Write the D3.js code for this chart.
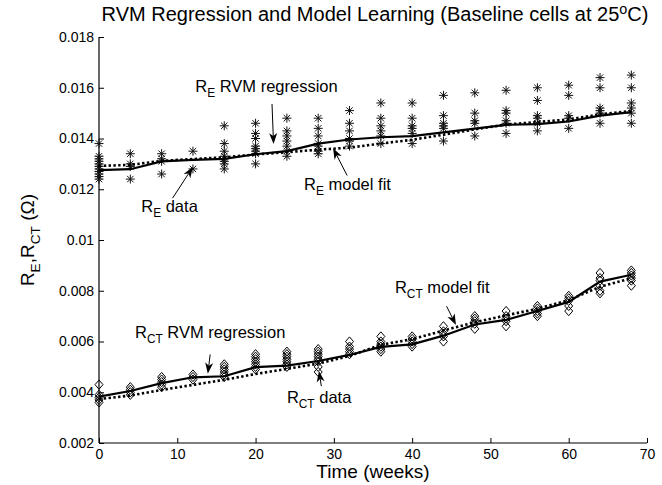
<!DOCTYPE html>
<html lang="en">
<head>
<meta charset="UTF-8">
<title>RVM Regression and Model Learning</title>
<script src="https://d3js.org/d3.v7.min.js"></script>
<style>
  body { margin: 0; background: #fff; }
  svg text { font-family: Arial, "Liberation Sans", sans-serif; fill: #000; }
</style>
</head>
<body>
<div id="chart"></div>
<script>
// sample times (weeks)
const weeks = [0, 4, 8, 12, 16, 20, 24, 28, 32, 36, 40, 44, 48, 52, 56, 60, 64, 68];

// R_E measurements, one list per week
const reData = [
  [0.0138, 0.0133, 0.0132, 0.0131, 0.0130, 0.0129, 0.0128, 0.0127, 0.0126, 0.0125, 0.0124],
  [0.0134, 0.0130, 0.0129, 0.0124],
  [0.0134, 0.0132, 0.0131, 0.0126],
  [0.0135, 0.0128],
  [0.0145, 0.0138, 0.0135, 0.0133, 0.0132, 0.0131, 0.0130, 0.0128],
  [0.0146, 0.0142, 0.0140, 0.0137, 0.0136, 0.0135, 0.0134, 0.0130],
  [0.0148, 0.0143, 0.0141, 0.0139, 0.0137, 0.0135, 0.0133],
  [0.0148, 0.0144, 0.0141, 0.0138, 0.0137, 0.0135, 0.0134],
  [0.0151, 0.0146, 0.0143, 0.0140, 0.0139, 0.0137],
  [0.0154, 0.0148, 0.0145, 0.0143, 0.0141, 0.0138],
  [0.0154, 0.0148, 0.0145, 0.0144, 0.0142, 0.0138],
  [0.0157, 0.0149, 0.0146, 0.0145, 0.0144, 0.0139],
  [0.0158, 0.0150, 0.0147, 0.0146, 0.0141],
  [0.0159, 0.0151, 0.0150, 0.0147, 0.0146, 0.0142],
  [0.0160, 0.0155, 0.0149, 0.0148, 0.0146, 0.0143],
  [0.0161, 0.0157, 0.0149, 0.0148, 0.0144],
  [0.0164, 0.0160, 0.0152, 0.0151, 0.0150, 0.0146],
  [0.0165, 0.0160, 0.0154, 0.0152, 0.0150, 0.0146]
];
const reRvm = [0.01275, 0.01279, 0.0131, 0.01316, 0.0132, 0.01338, 0.0135, 0.0138, 0.01396,
  0.01405, 0.01409, 0.01424, 0.01439, 0.01454, 0.01457, 0.01467, 0.0149, 0.01504];
const reModel = [0.01292, 0.01296, 0.01312, 0.01319, 0.01326, 0.01337, 0.01346, 0.01356, 0.01364,
  0.0138, 0.01395, 0.01415, 0.01436, 0.01455, 0.01465, 0.01475, 0.01495, 0.01508];

// R_CT measurements, one list per week
const rctData = [
  [0.0043, 0.0039, 0.0038, 0.0037, 0.0036],
  [0.0042, 0.0041, 0.0040, 0.0039],
  [0.0046, 0.0045, 0.0044, 0.0043, 0.0042],
  [0.0047, 0.0046, 0.0045],
  [0.0051, 0.0050, 0.0049, 0.0048, 0.0047, 0.0046],
  [0.0055, 0.0054, 0.0053, 0.0052, 0.0051, 0.0050, 0.0049],
  [0.0056, 0.0055, 0.0054, 0.0053, 0.0052, 0.0051, 0.0050],
  [0.0057, 0.0056, 0.0055, 0.0054, 0.0053, 0.0052, 0.0050, 0.0048],
  [0.0060, 0.0058, 0.0057, 0.0056, 0.0055],
  [0.0062, 0.0060, 0.0059, 0.0058, 0.0057, 0.0056],
  [0.0062, 0.0061, 0.0060, 0.0059, 0.0058],
  [0.0066, 0.0064, 0.0063, 0.0062, 0.0060],
  [0.0070, 0.0069, 0.0068, 0.0067, 0.0065],
  [0.0072, 0.0070, 0.0069, 0.0068, 0.0066],
  [0.0074, 0.0073, 0.0072, 0.0071, 0.0070],
  [0.0078, 0.0077, 0.0076, 0.0074, 0.0072],
  [0.0087, 0.0085, 0.0084, 0.0082, 0.0080, 0.0079],
  [0.0088, 0.0087, 0.0086, 0.0085, 0.0084, 0.0082]
];
const rctRvm = [0.00383, 0.00405, 0.00436, 0.00459, 0.00463, 0.00499, 0.00505, 0.00523, 0.00547,
  0.00579, 0.00589, 0.00623, 0.00667, 0.00685, 0.0072, 0.00756, 0.00836, 0.00863];
const rctModel = [0.00373, 0.00387, 0.00409, 0.00429, 0.00449, 0.00472, 0.00492, 0.00513, 0.00543,
  0.00587, 0.00609, 0.00643, 0.00676, 0.00703, 0.00729, 0.00763, 0.00816, 0.00849];

const xTicks = [0, 10, 20, 30, 40, 50, 60, 70];
const yTicks = [0.002, 0.004, 0.006, 0.008, 0.01, 0.012, 0.014, 0.016, 0.018];
const yTickLabels = ["0.002", "0.004", "0.006", "0.008", "0.01", "0.012", "0.014", "0.016", "0.018"];

// annotations: text anchor + arrow tail/tip, all in data units
const notes = [
  { parts: [["R"], ["E", "sub"], [" RVM regression"]], at: [12.3, 0.01585], tail: [22.1, 0.01536], tip: [22.3, 0.01378] },
  { parts: [["R"], ["E", "sub"], [" model fit"]], at: [26.2, 0.01198], tail: [31.7, 0.01254], tip: [29.9, 0.01362] },
  { parts: [["R"], ["E", "sub"], [" data"]], at: [5.4, 0.01110], tail: [9.4, 0.01165], tip: [12.0, 0.01288] },
  { parts: [["R"], ["CT", "sub"], [" RVM regression"]], at: [4.6, 0.00615], tail: [14.2, 0.00549], tip: [13.9, 0.00473] },
  { parts: [["R"], ["CT", "sub"], [" data"]], at: [24.0, 0.00357], tail: [28.4, 0.00424], tip: [28.1, 0.00484] },
  { parts: [["R"], ["CT", "sub"], [" model fit"]], at: [37.8, 0.0079], tail: [44.4, 0.00739], tip: [45.6, 0.00665] }
];

const width = 662, height = 485;
const x = d3.scaleLinear().domain([0, 70]).range([99, 647]);
const y = d3.scaleLinear().domain([0.002, 0.018]).range([443, 37]);

const svg = d3.select("#chart").append("svg")
  .attr("width", width).attr("height", height);

// writes text with sub/superscript pieces
function richText(sel, parts, size) {
  let shift = 0;
  parts.forEach(([str, kind]) => {
    const target = kind === "sub" ? size * 0.3 : kind === "sup" ? -size * 0.33 : 0;
    sel.append("tspan")
      .attr("dy", target - shift)
      .attr("font-size", kind ? size * 0.72 : size)
      .text(str);
    shift = target;
  });
  return sel;
}

// axes (left + bottom only, ticks pointing in)
const xAxis = d3.axisBottom(x).tickValues(xTicks).tickSize(-5).tickPadding(6);
const yAxis = d3.axisLeft(y).tickValues(yTicks).tickSize(-5).tickPadding(8)
  .tickFormat((d, i) => yTickLabels[i]);

const gx = svg.append("g").attr("transform", `translate(0,${y(0.002)})`).call(xAxis);
const gy = svg.append("g").attr("transform", `translate(${x(0)},0)`).call(yAxis);
[gx, gy].forEach(g => {
  g.select(".domain").attr("stroke", "#000").attr("stroke-width", 1.2);
  g.selectAll(".tick line").attr("stroke", "#000");
  g.selectAll(".tick text").attr("font-size", 14).attr("fill", "#000")
    .attr("font-family", "Arial, 'Liberation Sans', sans-serif");
});
gx.select(".domain").attr("d", `M${x(0)},0H${x(70)}`);
gy.select(".domain").attr("d", `M0,${y(0.002)}V${y(0.018)}`);
gy.selectAll(".tick text").attr("dx", 3);

// markers
const starPath = "M0,-4.5V4.5M-4.5,0H4.5M-3.2,-3.2L3.2,3.2M-3.2,3.2L3.2,-3.2";
const diamondPath = "M0,-4.6L4,0L0,4.6L-4,0Z";

const rePts = weeks.flatMap((w, i) => reData[i].map(v => [w, v]));
const rctPts = weeks.flatMap((w, i) => rctData[i].map(v => [w, v]));

svg.append("g").selectAll("path").data(rePts).join("path")
  .attr("d", starPath)
  .attr("transform", d => `translate(${x(d[0])},${y(d[1])})`)
  .attr("fill", "none").attr("stroke", "#111").attr("stroke-width", 1);

svg.append("g").selectAll("path").data(rctPts).join("path")
  .attr("d", diamondPath)
  .attr("transform", d => `translate(${x(d[0])},${y(d[1])})`)
  .attr("fill", "none").attr("stroke", "#000").attr("stroke-width", 1);

// lines
const line = d3.line().x((d, i) => x(weeks[i])).y(d => y(d));
[[reRvm, null], [reModel, "2.4,2.4"], [rctRvm, null], [rctModel, "2.4,2.4"]].forEach(([vals, dash]) => {
  svg.append("path").datum(vals)
    .attr("d", line)
    .attr("fill", "none").attr("stroke", "#000")
    .attr("stroke-width", dash ? 2.6 : 2.2)
    .attr("stroke-dasharray", dash);
});

// arrows + labels
function arrow(x1, y1, x2, y2) {
  const a = Math.atan2(y2 - y1, x2 - x1);
  const len = 11, hw = 4, notch = 3;
  const bx = x2 - Math.cos(a) * (len - notch), by = y2 - Math.sin(a) * (len - notch);
  svg.append("line").attr("x1", x1).attr("y1", y1).attr("x2", bx).attr("y2", by)
    .attr("stroke", "#000").attr("stroke-width", 1);
  const px = -Math.sin(a), py = Math.cos(a);
  const hx = x2 - Math.cos(a) * len, hy = y2 - Math.sin(a) * len;
  const pts = [[x2, y2], [hx + px * hw, hy + py * hw], [bx, by], [hx - px * hw, hy - py * hw]];
  svg.append("path").attr("d", "M" + pts.map(p => p.join(",")).join("L") + "Z").attr("fill", "#000");
}

notes.forEach(n => {
  arrow(x(n.tail[0]), y(n.tail[1]), x(n.tip[0]), y(n.tip[1]));
  richText(svg.append("text").attr("x", x(n.at[0])).attr("y", y(n.at[1])), n.parts, 16.5);
});

// title and axis labels
richText(svg.append("text").attr("x", 375).attr("y", 21).attr("text-anchor", "middle"),
  [["RVM Regression and Model Learning (Baseline cells at 25"], ["o", "sup"], ["C)"]], 20);

svg.append("text").attr("x", (x(0) + x(70)) / 2).attr("y", 478)
  .attr("text-anchor", "middle").attr("font-size", 19).text("Time (weeks)");

richText(svg.append("text").attr("transform", `translate(34,${(y(0.002) + y(0.018)) / 2}) rotate(-90)`)
  .attr("text-anchor", "middle"),
  [["R"], ["E", "sub"], [",R"], ["CT", "sub"], [" (\u03A9)"]], 19);
</script>
</body>
</html>
